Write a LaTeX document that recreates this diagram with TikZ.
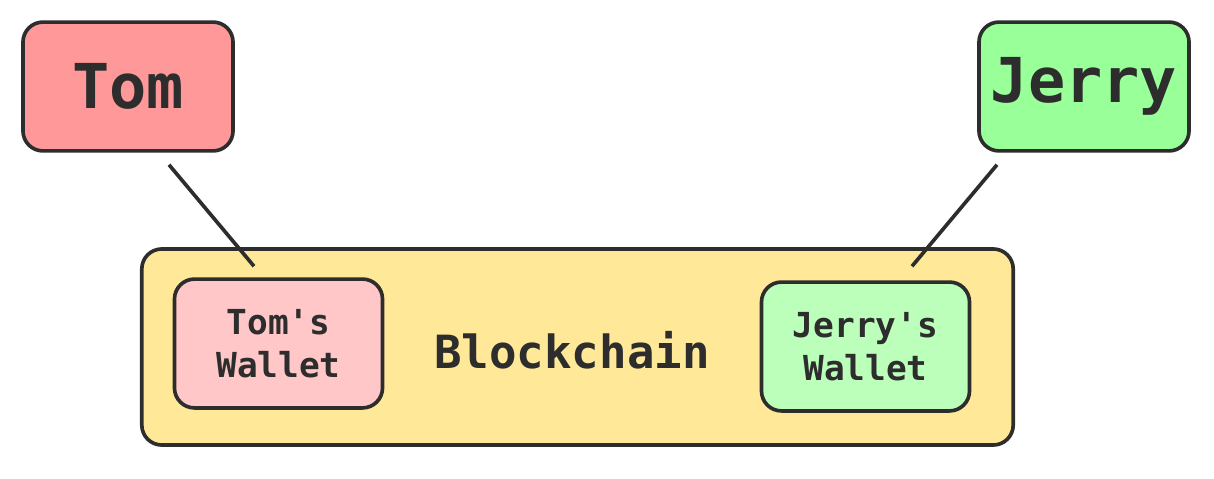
\documentclass[tikz,border=0pt]{standalone}
\usepackage{fontspec}
\setmonofont{DejaVu Sans Mono}
\usetikzlibrary{positioning, calc}
\definecolor{inkdark}{HTML}{2D2D2D}
\definecolor{tomred}{HTML}{FF9999}
\definecolor{tomlight}{HTML}{FFC7C7}
\definecolor{jerrygreen}{HTML}{99FF99}
\definecolor{jerrylight}{HTML}{BBFFBB}
\definecolor{chainyellow}{HTML}{FFE999}

\tikzset{
    box/.style={draw=inkdark, line width=2.6pt, rounded corners=0.5cm, text=inkdark,
        font=\ttfamily\bfseries, align=center, inner sep=0pt},
    person/.style={box, minimum width=5.25cm, minimum height=3.22cm, font=\ttfamily\bfseries\fontsize{44}{50}\selectfont},
    wallet/.style={box, minimum width=5.2cm, minimum height=3.22cm, font=\ttfamily\bfseries\fontsize{24.5}{31}\selectfont},
    link/.style={draw=inkdark, line width=2.6pt}
}

\begin{document}
\begin{tikzpicture}[x=0.025cm, y=-0.025cm]
    \useasboundingbox (0,0) rectangle (1214,479);

    % blockchain with both wallets
    \node[box, fill=chainyellow, minimum width=21.78cm, minimum height=4.9cm,
          font=\ttfamily\bfseries\fontsize{32.5}{38}\selectfont] (chain) at (577.5,347) {};
    \node[text=inkdark, font=\ttfamily\bfseries\fontsize{32.5}{38}\selectfont] (chainlbl) at (572,350) {Blockchain};
    \node[wallet, fill=tomlight] (tomw) at (278.5,343.5) {Tom's\\Wallet};
    \node[wallet, fill=jerrylight] (jerryw) at (865.5,346.5) {Jerry's\\Wallet};

    % owners
    \node[person, fill=tomred] (tom) at (128,86.5) {Tom};
    \node[person, fill=jerrygreen] (jerry) at (1084,86.5) {Jerry};

    \coordinate (tomfoot) at ($(tom.south)+(41,12)$);
    \coordinate (tomtip) at ($(tomw.north)+(-24.5,-11)$);
    \coordinate (jerryfoot) at ($(jerry.south)+(-87,12)$);
    \coordinate (jerrytip) at ($(jerryw.north)+(46.5,-14)$);

    \draw[link] (tomfoot) -- (tomtip);
    \draw[link] (jerryfoot) -- (jerrytip);
\end{tikzpicture}
\end{document}
